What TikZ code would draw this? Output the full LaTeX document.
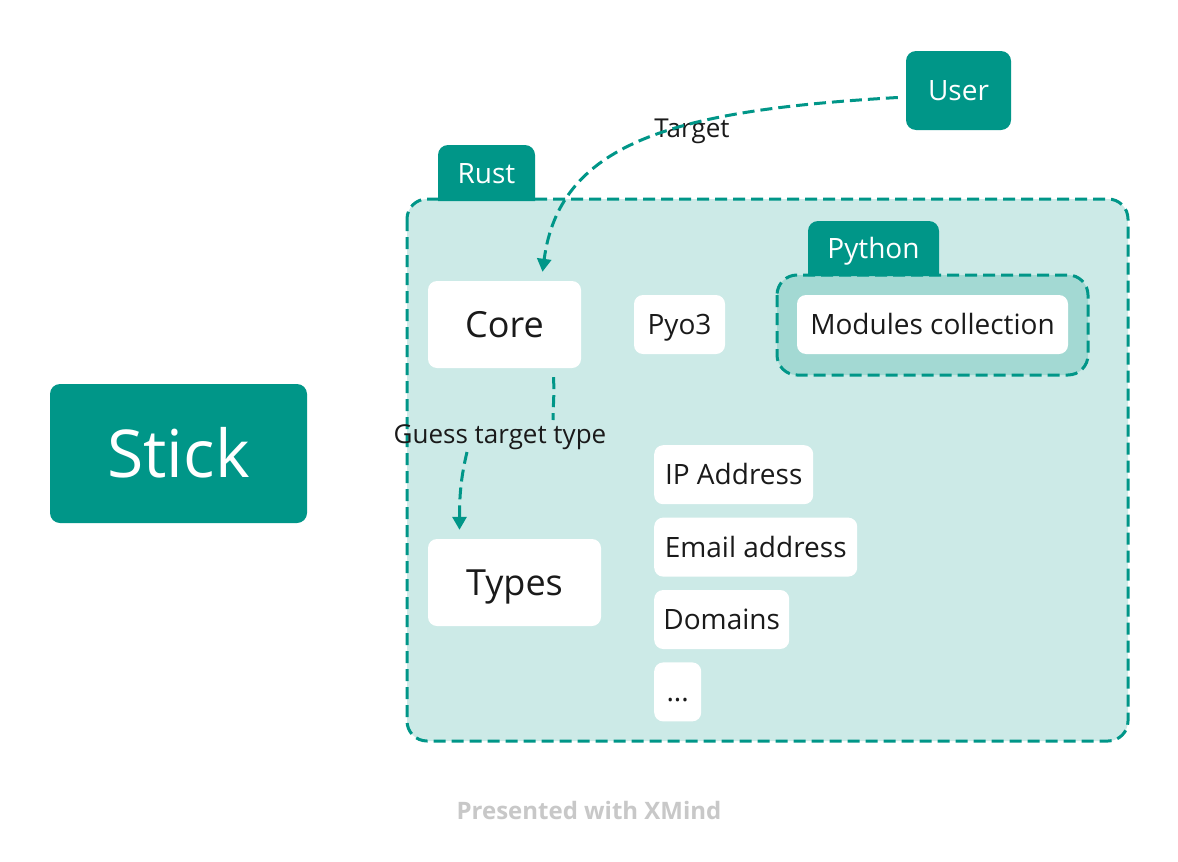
\documentclass[tikz,border=0pt]{standalone}
\usepackage{fontspec}
\setmainfont{Open Sans}
\usepackage{xcolor}
\usepackage{tikz}
\usetikzlibrary{arrows.meta, positioning}
\definecolor{xteal}{HTML}{009688}
\definecolor{rustbg}{HTML}{CCEAE7}
\definecolor{pybg}{HTML}{A3D9D3}
\definecolor{ink}{HTML}{1A1A1A}
\definecolor{credit}{HTML}{C8C8C8}
\tikzset{
  caps/.style={text height=#1, text depth=0pt},
  topic/.style={fill=xteal, rounded corners=10pt, text=white, align=center, inner sep=0pt},
  leaf/.style={fill=white, rounded corners=9pt, text=ink, align=center, inner sep=0pt, minimum height=59pt, font=\fontsize{28}{32}\selectfont, caps=20pt},
  bigleaf/.style={leaf, minimum height=87pt, font=\fontsize{36}{40}\selectfont, caps=25.7pt},
  frame/.style={draw=xteal, line width=3pt, dash pattern=on 12pt off 6pt, rounded corners=20pt},
  tabtext/.style={text=white, inner sep=0pt, font=\fontsize{28}{32}\selectfont, caps=20pt},
  flow/.style={xteal, line width=3pt, dash pattern=on 12pt off 6pt},
  tip/.style={-{Triangle[length=13pt, width=14pt]}},
  lbl/.style={text=ink, inner sep=3pt, font=\fontsize{26}{30}\selectfont, caps=18.6pt}
}
\begin{document}
\begin{tikzpicture}[x=1pt,y=-1pt]
    \fill[white] (0,0) rectangle (1178,862);
    \useasboundingbox (0,0) rectangle (1178,862);
    % containers
    \draw[frame, fill=rustbg] (407,199) rectangle (1128,741);
    \fill[xteal, rounded corners=10pt] (438,201) -- (438,145) -- (535,145) -- (535,201);
    \node[tabtext] (rust) at (486.5,173) {Rust};
    \draw[frame, fill=pybg] (777,275) rectangle (1088,375);
    \fill[xteal, rounded corners=10pt] (808,276) -- (808,221) -- (939,221) -- (939,276);
    \node[tabtext] (python) at (873.5,248) {Python};
    % topics
    \node[topic, minimum width=257pt, minimum height=139pt, font=\fontsize{66}{74}\selectfont, caps=47pt] (stick) at (178.5,453.5) {Stick};
    \node[topic, minimum width=105pt, minimum height=79pt, font=\fontsize{28}{32}\selectfont, caps=20pt] (user) at (958.5,90.5) {User};
    \node[bigleaf, minimum width=153pt] (core) at (504.5,324.5) {Core};
    \node[leaf, minimum width=91pt] (pyo) at (679.5,324.5) {Pyo3};
    \node[leaf, minimum width=271pt] (modules) at (932.5,324.5) {Modules collection};
    \node[bigleaf, minimum width=173pt] (types) at (514.5,582.5) {Types};
    \node[leaf, minimum width=159pt, anchor=north west] (ip) at (654,445) {IP Address};
    \node[leaf, minimum width=203pt, below right=13pt and 0pt of ip.south west] (email) {Email address};
    \node[leaf, minimum width=135pt, below right=13pt and 0pt of email.south west] (domains) {Domains};
    \node[leaf, minimum width=47pt, below right=13pt and 0pt of domains.south west] (more) {...};
    % relations
    \node[lbl, fill=white] (target) at (692,128) {Target};
    \node[lbl] (guess) at (500,434) {Guess target type};
    \draw[flow, tip] ([shift={(-8,7)}]user.west) .. controls (680,110) and (560,140) .. ([shift={(38,-9)}]core.north);
    \draw[flow] ([shift={(49,9)}]core.south) .. controls +(1,20) and +(0,-15) .. ([shift={(53,-14)}]guess.center);
    \draw[flow, tip] ([shift={(-33,18)}]guess.center) .. controls +(-6,25) and +(0,-35) .. ([shift={(-55,-9)}]types.north);
    \node[text=credit, font=\bfseries\fontsize{24}{28}\selectfont, caps=17pt] (xmind) at (589,811) {Presented with XMind};
\end{tikzpicture}
\end{document}
